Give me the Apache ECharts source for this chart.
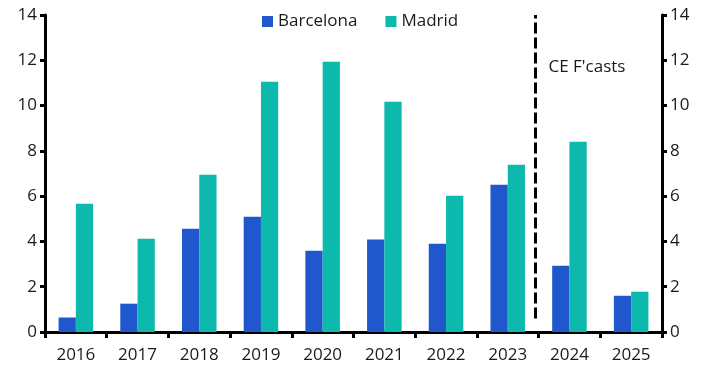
<!DOCTYPE html>
<html>
<head>
<meta charset="utf-8">
<script src="https://cdn.jsdelivr.net/npm/echarts@6/dist/echarts.min.js"></script>
<style>html,body{margin:0;padding:0;background:#fff;}#c{width:708px;height:386px;}</style>
</head>
<body>
<div id="c"></div>
<script>
const years = ['2016','2017','2018','2019','2020','2021','2022','2023','2024','2025'];
const barcelona = [0.64, 1.25, 4.56, 5.09, 3.59, 4.08, 3.90, 6.50, 2.93, 1.60];
const madrid = [5.66, 4.12, 6.95, 11.05, 11.93, 10.17, 6.02, 7.39, 8.40, 1.78];
const yTicks = [0, 2, 4, 6, 8, 10, 12, 14];
const forecastStart = '2024';
const forecastLabel = "CE F'casts";

const FONT = 'Open Sans';
const fIdx = years.indexOf(forecastStart);
const chart = echarts.init(document.getElementById('c'));
const axisCommon = {
  type: 'value', min: yTicks[0], max: yTicks[yTicks.length - 1], interval: 2,
  axisLine: { show: true, lineStyle: { color: '#000', width: 3 } },
  axisTick: { show: true, length: 5, lineStyle: { color: '#000', width: 3 } },
  splitLine: { show: false },
  axisLabel: { color: '#1a1a1a', fontFamily: FONT, fontSize: 17, margin: 8 }
};
chart.setOption({
  animation: false,
  textStyle: { fontFamily: FONT },
  grid: { left: 45, right: 46, top: 15, bottom: 54 },
  legend: {
    top: 8, left: 257, itemWidth: 11, itemHeight: 11, itemGap: 28,
    icon: 'rect',
    textStyle: { fontFamily: FONT, fontSize: 17, color: '#1a1a1a' },
    data: ['Barcelona', 'Madrid']
  },
  xAxis: [{
    type: 'category', data: years,
    axisLine: { lineStyle: { color: '#000', width: 3 } },
    axisTick: { show: true, length: 6, lineStyle: { color: '#000', width: 3 } },
    axisLabel: { color: '#1a1a1a', fontFamily: FONT, fontSize: 17, margin: 15 }
  }, {
    type: 'value', min: 0, max: years.length, show: false
  }],
  yAxis: [
    Object.assign({ position: 'left' }, axisCommon),
    Object.assign({ position: 'right' }, axisCommon)
  ],
  series: [
    { name: 'Barcelona', type: 'bar', data: barcelona, barGap: '0%', barCategoryGap: '44%', itemStyle: { color: '#2057cc' } },
    { name: 'Madrid', type: 'bar', data: madrid, barGap: '0%', barCategoryGap: '44%', itemStyle: { color: '#0db9ad' } },
    {
      type: 'line', xAxisIndex: 1, yAxisIndex: 0, data: [], symbol: 'none',
      markLine: {
        silent: true, symbol: 'none',
        lineStyle: { color: '#000', width: 3, type: [11, 4] },
        label: { show: false },
        data: [[{ coord: [fIdx - 0.05, 0.6] }, { coord: [fIdx - 0.05, 14] }]]
      }
    }
  ]
});
const p = chart.convertToPixel({ xAxisIndex: 1, yAxisIndex: 0 }, [fIdx - 0.05, 12]);
chart.setOption({
  graphic: [{
    type: 'text', left: p[0] + 13, top: p[1] - 2,
    style: { text: forecastLabel, fontFamily: FONT, fontSize: 17, fill: '#1a1a1a' }
  }]
});
</script>
</body>
</html>
